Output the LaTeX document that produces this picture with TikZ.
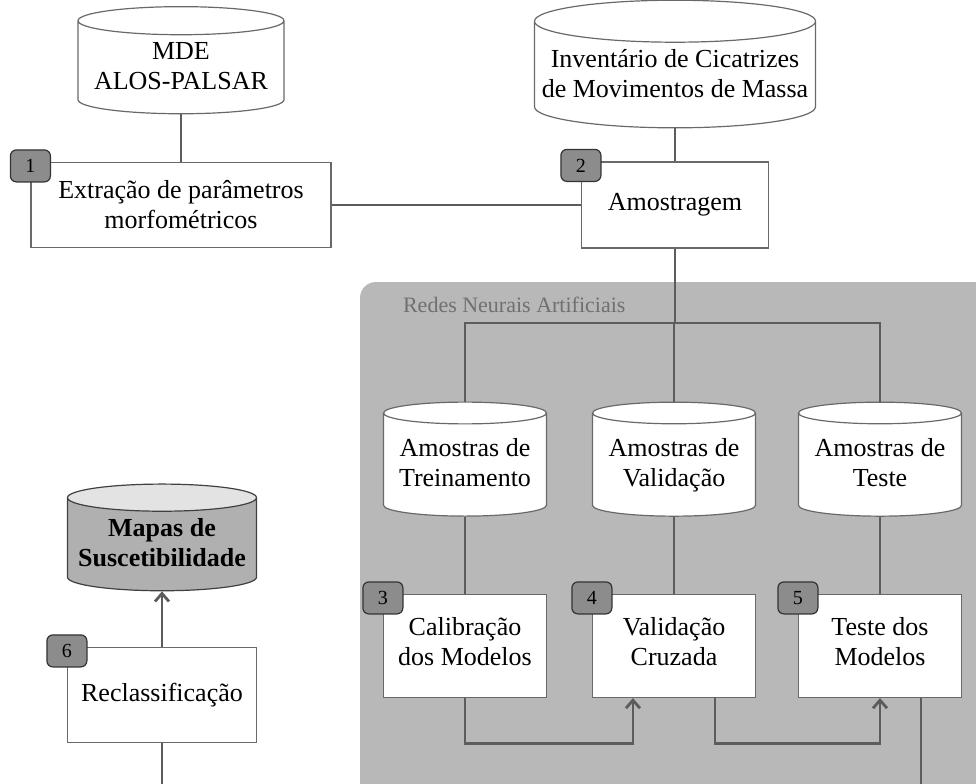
\documentclass[tikz,border=0pt]{standalone}
\usepackage{fontspec}
\setmainfont{Liberation Serif}
\usetikzlibrary{shapes.geometric,arrows.meta,calc}
\definecolor{regiongray}{RGB}{184,184,184}
\definecolor{linegray}{RGB}{92,92,92}
\definecolor{boxgray}{RGB}{105,105,105}
\definecolor{badgegray}{RGB}{140,140,140}
\definecolor{labelgray}{RGB}{112,112,112}
\tikzset{
  stepbox/.style={draw=boxgray, line width=0.6pt, fill=white, align=center,
    font=\fontsize{13pt}{15pt}\selectfont},
  datacyl/.style={cylinder, shape border rotate=90, aspect=0.15, draw=boxgray,
    line width=0.6pt, fill=white, align=center, font=\fontsize{13pt}{15pt}\selectfont},
  badge/.style={draw=black!80, fill=badgegray, rounded corners=3pt, line width=0.6pt,
    minimum width=20pt, minimum height=16pt, inner sep=0pt, font=\fontsize{10pt}{10pt}\selectfont},
  link/.style={draw=linegray, line width=1.4pt},
}
\begin{document}
\begin{tikzpicture}[x=0.5pt,y=-0.5pt,>={Straight Barb[length=4pt,width=7pt]}]
\useasboundingbox (0,0) rectangle (976,783);
\clip (0,0) rectangle (976,783);
\fill[white] (0,0) rectangle (976,783);
% region of the neural networks
\fill[regiongray, rounded corners=8pt] (360,282) rectangle (1010,830);
\node[anchor=west, text=labelgray, font=\fontsize{11pt}{11pt}\selectfont] (rna) at (396,305) {Redes Neurais Artificiais};
% data
\node[datacyl, minimum width=103pt, minimum height=46pt] (mde) at (181,70) {MDE\\ALOS-PALSAR\strut};
\node[datacyl, minimum width=140.5pt, minimum height=52pt] (inv) at (675,78) {Invent\'ario de Cicatrizes\\de Movimentos de Massa\strut};
% steps
\node[stepbox, minimum width=150pt, minimum height=42.5pt] (extr) at (181,205) {Extração de parâmetros\\morfométricos};
\node[stepbox, minimum width=93.5pt, minimum height=43pt] (amost) at (675,205) {Amostragem};
\foreach \n/\m/\x/\a/\b in {treino/calib/465/{Amostras de\\Treinamento}/{Calibração\\dos Modelos},
    valid/cruz/674/{Amostras de\\Validação}/{Validação\\Cruzada},
    teste/tmod/880/{Amostras de\\Teste}/{Teste dos\\Modelos}}
{
    \node[datacyl, minimum width=81.5pt, minimum height=57pt] (\n) at (\x,467) {\a\strut};
    \node[stepbox, minimum width=81.5pt, minimum height=51.5pt] (\m) at (\x,646) {\b\strut};
    \draw[link] (\n) -- (\m);
}
\node[datacyl, minimum width=94.5pt, minimum height=49pt, fill=none, cylinder uses custom fill,
  cylinder body fill=gray!62, cylinder end fill=gray!22, draw=black!75] (mapas) at (162,547) {\textbf{Mapas de}\\\textbf{Suscetibilidade}\strut};
\node[stepbox, minimum width=94.5pt, minimum height=47.5pt] (reclass) at (162,695) {Reclassificação};
% badges
\foreach \s/\k in {extr/1,amost/2,calib/3,cruz/4,tmod/5,reclass/6}
{
    \node[badge] (b\k) at ([yshift=-2pt]\s.north west) {\k};
}
% connectors
\draw[link] (mde) -- (extr);
\draw[link] (inv) -- (amost);
\draw[link] (extr) -- (amost);
\coordinate (split) at (675,323);
\draw[link] (amost) -- (split);
\foreach \n in {treino,valid,teste}
    \draw[link] (split) -| (\n.north);
\draw[link,->] (calib.south) -- ++(0,45) -| ($(cruz.south west)!.25!(cruz.south east)$);
\draw[link,->] ($(cruz.south west)!.75!(cruz.south east)$) -- ++(0,45) -| (tmod.south);
\draw[link] ($(tmod.south west)!.75!(tmod.south east)$) -- ++(0,140) -| (reclass.south);
\draw[link,->] (reclass) -- (mapas);
\end{tikzpicture}
\end{document}
